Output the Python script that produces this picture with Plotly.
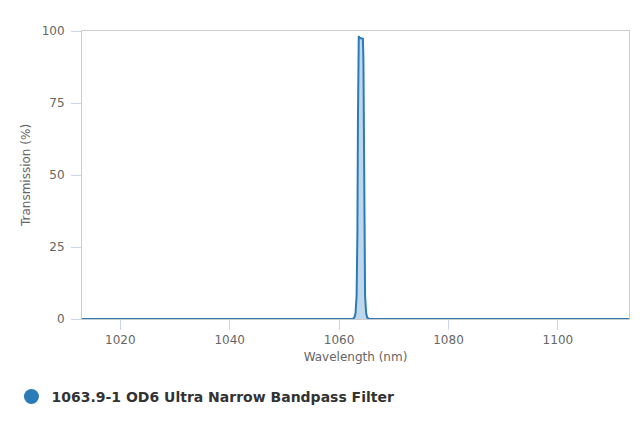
import plotly.graph_objects as go

# filter transmission curve
wavelength = [1013, 1062.5, 1062.8, 1063.0, 1063.2, 1063.35, 1063.45, 1063.55, 1063.6,
              1063.7, 1063.8, 1064.0, 1064.2, 1064.35, 1064.45, 1064.55, 1064.65,
              1064.75, 1064.95, 1065.15, 1065.5, 1113]
transmission = [0, 0, 0.5, 2, 8, 30, 70, 97, 98.3,
                97.4, 97.6, 97.5, 97.4, 97.3, 90, 60, 25,
                8, 2, 0.5, 0, 0]
series_name = "1063.9-1 OD6 Ultra Narrow Bandpass Filter"
x_ticks = [1020, 1040, 1060, 1080, 1100]
y_ticks = [0, 25, 50, 75, 100]

line_color = "#2b7bb9"
axis_font = dict(family="DejaVu Sans", size=12, color="#666666")
title_font = dict(family="DejaVu Sans", size=12, color="#666666")

fig = go.Figure()
fig.add_trace(go.Scatter(
    x=wavelength,
    y=transmission,
    mode="lines",
    line=dict(color=line_color, width=2),
    fill="tozeroy",
    fillcolor="rgba(43,123,185,0.3)",
    showlegend=False,
    hoverinfo="x+y",
))
# legend entry with a round marker
fig.add_trace(go.Scatter(
    x=[None], y=[None],
    mode="markers",
    marker=dict(color=line_color, size=15, symbol="circle"),
    name=series_name,
))

# the page body adds an 8px margin, so the figure is a bit smaller than the window
fig.update_layout(
    width=624,
    height=411,
    margin=dict(l=71, r=3, t=23, b=100),
    plot_bgcolor="white",
    paper_bgcolor="white",
    showlegend=True,
    legend=dict(
        orientation="h",
        x=-0.129, xanchor="left",
        y=-0.215, yanchor="top",
        font=dict(family="DejaVu Sans", size=14, color="#333333", weight="bold"),
        itemsizing="trace",
    ),
    xaxis=dict(
        range=[1013, 1113],
        tickvals=x_ticks,
        ticks="outside", ticklen=10, tickcolor="#ccd6eb",
        showgrid=False, zeroline=False,
        showline=True, linecolor="#cccccc", mirror=True,
        tickfont=axis_font,
        title=dict(text="Wavelength (nm)", font=title_font, standoff=6),
    ),
    yaxis=dict(
        range=[0, 100],
        tickvals=y_ticks,
        ticks="outside", ticklen=10, tickcolor="#ccd6eb",
        ticklabelstandoff=4,
        showgrid=False, zeroline=False,
        showline=True, linecolor="#cccccc", mirror=True,
        tickfont=axis_font,
        title=dict(text="Transmission (%)", font=title_font, standoff=8),
    ),
)

fig.write_html("out.html")
